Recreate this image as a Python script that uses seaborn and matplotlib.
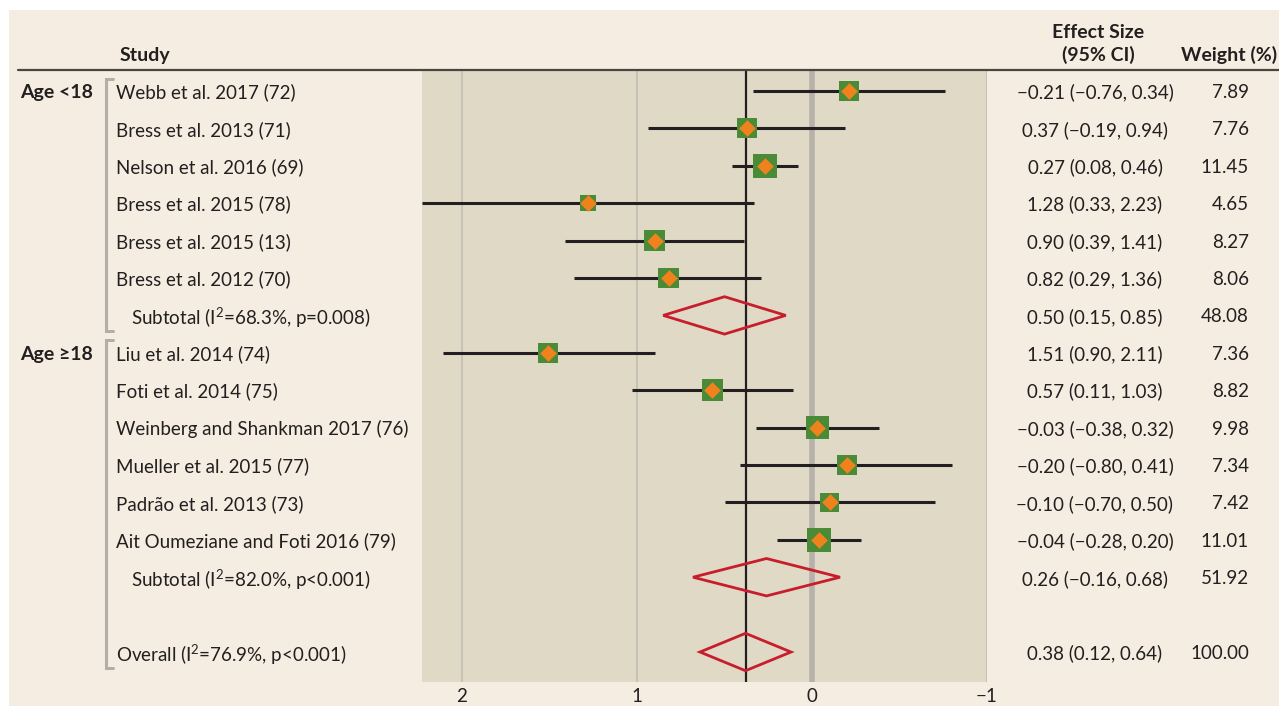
import numpy as np
import pandas as pd
import matplotlib
matplotlib.use("Agg")
import matplotlib.pyplot as plt
import matplotlib.transforms as mtransforms
from matplotlib.patches import Rectangle, Polygon
import seaborn as sns

# ---- data ----
studies = [
    "Webb et al. 2017 (72)", "Bress et al. 2013 (71)", "Nelson et al. 2016 (69)",
    "Bress et al. 2015 (78)", "Bress et al. 2015 (13)", "Bress et al. 2012 (70)",
    "Liu et al. 2014 (74)", "Foti et al. 2014 (75)", "Weinberg and Shankman 2017 (76)",
    "Mueller et al. 2015 (77)", "Padrão et al. 2013 (73)", "Ait Oumeziane and Foti 2016 (79)",
]
group_of = ["Age <18"] * 6 + ["Age ≥18"] * 6
effects = [-0.21, 0.37, 0.27, 1.28, 0.90, 0.82, 1.51, 0.57, -0.03, -0.20, -0.10, -0.04]
ci_low = [-0.76, -0.19, 0.08, 0.33, 0.39, 0.29, 0.90, 0.11, -0.38, -0.80, -0.70, -0.28]
ci_high = [0.34, 0.94, 0.46, 2.23, 1.41, 1.36, 2.11, 1.03, 0.32, 0.41, 0.50, 0.20]
weights = [7.89, 7.76, 11.45, 4.65, 8.27, 8.06, 7.36, 8.82, 9.98, 7.34, 7.42, 11.01]

groups = ["Age <18", "Age ≥18"]
sub_labels = ["Subtotal (I$^2$=68.3%, p=0.008)", "Subtotal (I$^2$=82.0%, p<0.001)"]
sub_effect = [0.50, 0.26]
sub_low = [0.15, -0.16]
sub_high = [0.85, 0.68]
sub_weight = [48.08, 51.92]

overall_label = "Overall (I$^2$=76.9%, p<0.001)"
overall_effect = 0.38
overall_low = 0.12
overall_high = 0.64
overall_weight = 100.00

x_ticks = [2, 1, 0, -1]
x_ticklabels = ["2", "1", "0", "−1"]

# ---- row layout ----
study_rows = list(range(0, 6)) + list(range(7, 13))
sub_rows = [6, 13]
overall_row = 15

df = pd.DataFrame({"study": studies, "group": group_of, "effect": effects,
                   "low": ci_low, "high": ci_high, "weight": weights, "row": study_rows})

# ---- style ----
sns.set_theme(style="white")
FONT = ["Lato", "DejaVu Sans"]
plt.rcParams["font.family"] = FONT
plt.rcParams["mathtext.default"] = "regular"
TXT = "#231f20"
PANEL = "#f5ede1"
AXBG = "#dfd9c6"
GREEN = "#4b8a36"
ORANGE = "#f0821e"
RED = "#c81d2c"
FS = 13.5
FSB = 14

W, H = 1279, 711
fig = plt.figure(figsize=(W / 100, H / 100), dpi=100, facecolor="white")

def fx(px):
    return px / W

def fy(py):
    return 1 - py / H

# beige panel behind everything
fig.patches.append(Rectangle((fx(9), fy(706)), fx(1279 - 9), (706 - 10) / H,
                             transform=fig.transFigure, facecolor=PANEL,
                             edgecolor="none", zorder=-10))

ax = fig.add_axes([fx(422), fy(682), fx(987 - 422), (682 - 70) / H])
ax.set_facecolor(AXBG)
for s in ax.spines.values():
    s.set_visible(False)

row_px = 37.42
ax.set_ylim(15 + 30 / row_px, -21 / row_px)
ax.set_xlim(2.2286, -1.0)

# reference lines
for v in [2, 1, -1]:
    ax.axvline(v, color="#c7c2b6", lw=1.4, zorder=1)
ax.axvline(0, color="#b6b1aa", lw=4.0, zorder=1)
ax.axvline(overall_effect, color=TXT, lw=1.6, zorder=2)

# confidence intervals
for _, r in df.iterrows():
    ax.plot([r["low"], r["high"]], [r["row"], r["row"]], color=TXT, lw=2.2,
            solid_capstyle="butt", zorder=3)

# weighted squares and point markers
wmax = max(weights)
sns.scatterplot(data=df, x="effect", y="row", size="weight",
                sizes=(0, 27 * wmax), size_norm=(0, wmax), marker="s",
                color=GREEN, linewidth=0, legend=False, ax=ax, zorder=4)
sns.scatterplot(data=df, x="effect", y="row", marker="D", s=72,
                color=ORANGE, linewidth=0, legend=False, ax=ax, zorder=5)

# pooled estimates as open diamonds
def diamond(center, low, high, row):
    pts = [(low, row), (center, row - 0.5), (high, row), (center, row + 0.5)]
    ax.add_patch(Polygon(pts, closed=True, fill=False, edgecolor=RED, lw=2.0,
                         joinstyle="miter", zorder=6))

for e, l, h, r in zip(sub_effect, sub_low, sub_high, sub_rows):
    diamond(e, l, h, r)
diamond(overall_effect, overall_low, overall_high, overall_row)

ax.set_yticks([])
ax.set_xticks(x_ticks)
ax.set_xticklabels(x_ticklabels, fontsize=FS, color=TXT)
ax.tick_params(axis="x", length=0, pad=4)
ax.set_xlabel("")
ax.set_ylabel("")

# ---- text columns ----
tr = mtransforms.blended_transform_factory(fig.transFigure, ax.transData)
VA = "center_baseline"

def fmt(v):
    return f"{v:.2f}".replace("-", "−")

def es_text(e, l, h):
    return f"{fmt(e)} ({fmt(l)}, {fmt(h)})"

def row_text(x, row, s, ha="left", **kw):
    ax.text(fx(x), row, s, transform=tr, ha=ha, va=VA, fontsize=FS, color=TXT,
            clip_on=False, **kw)

for _, r in df.iterrows():
    row_text(116, r["row"], r["study"])
    row_text(1095, r["row"], es_text(r["effect"], r["low"], r["high"]), ha="center")
    row_text(1249, r["row"], f"{r['weight']:.2f}", ha="right")

for lab, e, l, h, w, r in zip(sub_labels, sub_effect, sub_low, sub_high, sub_weight, sub_rows):
    row_text(131, r, lab)
    row_text(1095, r, es_text(e, l, h), ha="center")
    row_text(1249, r, f"{w:.2f}", ha="right")

row_text(116, overall_row, overall_label)
row_text(1095, overall_row, es_text(overall_effect, overall_low, overall_high), ha="center")
row_text(1249, overall_row, f"{overall_weight:.2f}", ha="right")

# group labels and brackets
group_spans = [(study_rows[0], sub_rows[0]), (study_rows[6], overall_row)]
for g, (r0, r1) in zip(groups, group_spans):
    ax.text(fx(20), r0, g, transform=tr, ha="left", va=VA, fontsize=FSB,
            fontweight="bold", color=TXT, clip_on=False)
    top, bot = r0 - 0.33, r1 + 0.43
    ax.plot([fx(113), fx(106), fx(106), fx(113)], [top, top, bot, bot], transform=tr,
            color="#b3aea7", lw=2.2, clip_on=False, solid_joinstyle="miter")

# header
fig.text(fx(120), fy(55), "Study", ha="left", va="center", fontsize=FSB,
         fontweight="bold", color=TXT)
fig.text(fx(1098), fy(33), "Effect Size", ha="center", va="center", fontsize=FSB,
         fontweight="bold", color=TXT)
fig.text(fx(1098), fy(55), "(95% CI)", ha="center", va="center", fontsize=FSB,
         fontweight="bold", color=TXT)
fig.text(fx(1277), fy(55), "Weight (%)", ha="right", va="center", fontsize=FSB,
         fontweight="bold", color=TXT)
fig.add_artist(plt.Line2D([fx(18), fx(1279)], [fy(70), fy(70)], transform=fig.transFigure,
                          color="#4a4543", lw=1.6))

fig.savefig("out.png", dpi=100, facecolor=fig.get_facecolor())
